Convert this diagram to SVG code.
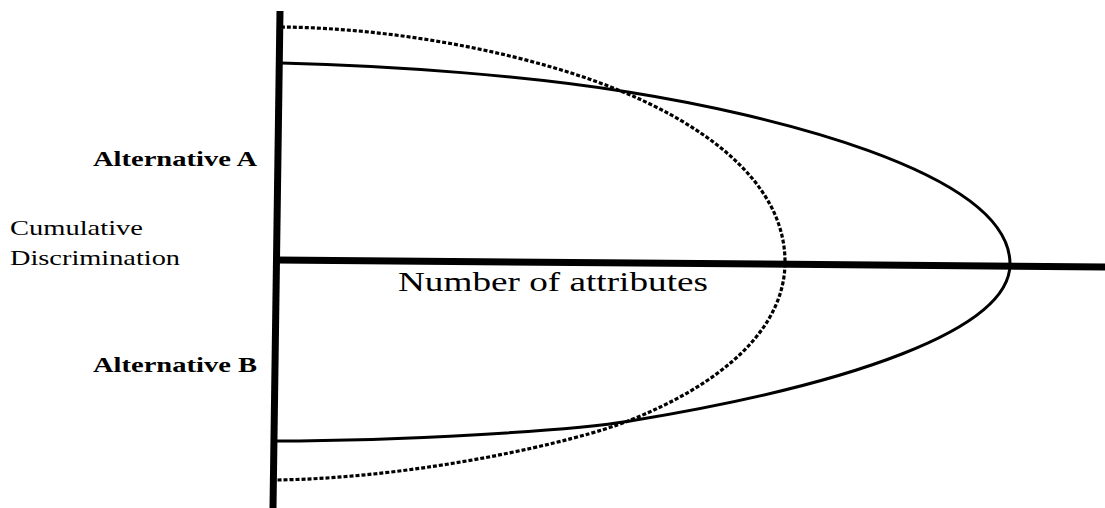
<svg xmlns="http://www.w3.org/2000/svg" width="1105" height="508" viewBox="0 0 1105 508">
<style>
.lbl{font-family:"Liberation Serif","Times New Roman",serif;fill:#000}
.b{font-weight:bold}
.axis{stroke:#000;fill:none}
.solid{stroke:#000;stroke-width:3;fill:none}
.dash{stroke:#000;stroke-width:3.2;fill:none;stroke-dasharray:4 2}
</style>
<rect width="1105" height="508" fill="#fff"/>
<g id="axes">
<line class="axis" x1="280" y1="11" x2="273" y2="508" stroke-width="7"/>
<line class="axis" x1="276" y1="260" x2="1105" y2="267" stroke-width="7"/>
</g>
<g id="connectors">
<path id="solid-curve" class="solid" d="M281,63 C400,66 528,76 628,92 C760,113 1010,170 1010,264 C1010,330 850,385 630,421 C570,431 400,441 276,441"/>
<path id="dashed-curve" class="dash" d="M281,27 C400,28 540,55 635,97 C700,126 785,180 785,262 C785,330 720,385 628,421 C578,441 420,478 276,480"/>
</g>
<g id="label-alt-a"><text class="lbl b" x="257" y="166" font-size="22" text-anchor="end" textLength="164" lengthAdjust="spacingAndGlyphs">Alternative A</text></g>
<g id="label-cum"><text class="lbl" x="10" y="235" font-size="22" textLength="133" lengthAdjust="spacingAndGlyphs">Cumulative</text>
<text class="lbl" x="10" y="265" font-size="22" textLength="170" lengthAdjust="spacingAndGlyphs">Discrimination</text></g>
<g id="label-num"><text class="lbl" x="398" y="291" font-size="27" textLength="310" lengthAdjust="spacingAndGlyphs">Number of attributes</text></g>
<g id="label-alt-b"><text class="lbl b" x="257" y="372" font-size="22" text-anchor="end" textLength="164" lengthAdjust="spacingAndGlyphs">Alternative B</text></g>
</svg>
